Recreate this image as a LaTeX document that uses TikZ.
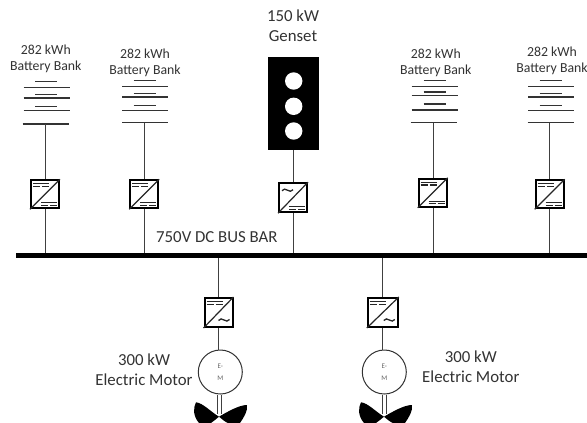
\documentclass[tikz,border=0pt]{standalone}
\usepackage{fontspec}
\setmainfont{Carlito}
\usetikzlibrary{calc}
\definecolor{txt}{HTML}{333333}
\definecolor{wire}{HTML}{404040}
\tikzset{
  x=1pt,y=-1pt,
  wire/.style={draw=wire,line width=1pt},
  cell/.style={draw=black!80,line width=1.1pt},
  lbl/.style={text=txt,font=\fontsize{13.8}{16.3}\selectfont,align=center,inner sep=0pt},
  biglbl/.style={text=txt,font=\fontsize{16.8}{20}\selectfont,align=center,inner sep=0pt},
  conv/.style={draw=black,line width=2pt,fill=white,minimum width=#1,minimum height=28pt,inner sep=0pt},
  conv/.default=28pt,
  symb/.style={draw=black!85,line width=1.2pt},
  motor/.style={circle,draw=black!80,line width=1pt,fill=white,minimum size=44pt,inner sep=0pt,
    align=center,font=\fontsize{7}{12}\selectfont,text=black!60},
}
\newcommand{\tildeat}[1]{%
  \draw[symb,line width=1.3pt,shift={(#1)}] (-5.5,0.5) .. controls (-2.5,-4.5) and (2.5,4.5) .. (5.5,-0.5);
}
\newcommand{\convsym}[3]{%
  \draw[symb] (#1.south west) -- (#1.north east);
  \ifx#2d
    \draw[symb] ([xshift=3pt,yshift=-4.5pt]#1.north west) -- ++(16,0);
    \draw[symb] ([xshift=3pt,yshift=-7.2pt]#1.north west) -- ++(7,0);
    \draw[symb] ([xshift=12pt,yshift=-7.2pt]#1.north west) -- ++(7,0);
  \else
    \tildeat{$(#1.north west)+(9.5,8)$}
  \fi
  \ifx#3d
    \draw[symb] ([xshift=-19pt,yshift=6.7pt]#1.south east) -- ++(16,0);
    \draw[symb] ([xshift=-19pt,yshift=4pt]#1.south east) -- ++(7,0);
    \draw[symb] ([xshift=-10pt,yshift=4pt]#1.south east) -- ++(7,0);
  \else
    \tildeat{$(#1.south east)+(-9.5,-8)$}
  \fi
}
\newcommand{\batt}[9]{%
  \draw[cell] (#3,#4) -- ++(22,0);
  \draw[cell] (#2,#5) -- ++(46,0);
  \draw[cell] (#3,#6) -- ++(22,0);
  \draw[cell] (#2,#7) -- ++(46,0);
  \draw[cell] (#3,#8) -- ++(22,0);
  \draw[cell] (#2,#9) -- ++(46,0);
}
\newcommand{\prop}[1]{%
  \fill[black] (#1,416.7) .. controls (#1-8,412) and (#1-16,403) .. (#1-23,402.3)
    .. controls (#1-26,408) and (#1-26,416) .. (#1-20,423) -- (#1-8,423)
    .. controls (#1-5,421) and (#1-3,419) .. (#1,416.7)
    .. controls (#1+3,419) and (#1+6,422) .. (#1+9,423) -- (#1+21,423)
    .. controls (#1+25,417) and (#1+29,411) .. (#1+28,405)
    .. controls (#1+20,405) and (#1+8,412) .. (#1,416.7) -- cycle;
}
\begin{document}
\begin{tikzpicture}
\useasboundingbox (0,0) rectangle (587,423);
\fill[white] (0,0) rectangle (587,423);

% labels
\node[lbl] (t1) at (45.8,58.5) {282 kWh\\Battery Bank};
\node[lbl] (t2) at (145,62.5) {282 kWh\\Battery Bank};
\node[biglbl] (t3) at (293,26) {150 kW\\Genset};
\node[lbl] (t4) at (435.8,62.5) {282 kWh\\Battery Bank};
\node[lbl] (t5) at (552,60.5) {282 kWh\\Battery Bank};
\node[biglbl,anchor=west] (tb) at (156,237) {750V DC BUS BAR};
\node[biglbl] (t6) at (144,369.5) {300 kW\\Electric Motor};
\node[biglbl] (t7) at (470.8,367) {300 kW\\Electric Motor};

% bus
\node[fill=black,minimum width=571pt,minimum height=4.6pt,inner sep=0pt,anchor=west] (bus) at (16,255.6) {};

% batteries
\batt{b1}{23.5}{35}{81.7}{87.3}{94.3}{98}{106.3}{110.7}{117.7}
\draw[cell] (22.7,124) -- (68.7,124);
\batt{b2}{122.3}{133.5}{80.7}{86.7}{93.3}{97}{105.3}{110.7}{117.7}
\draw[cell] (122,122.7) -- (168,122.7);
\batt{b4}{411.5}{423.5}{80.7}{86.7}{92}{95.7}{104}{110}{116.7}
\draw[cell] (410.7,122.7) -- (456.7,122.7);
\batt{b5}{528}{539.5}{80.7}{86.7}{93.3}{97}{105.3}{110.7}{117.7}
\draw[cell] (527.7,122.7) -- (573.7,122.7);

\coordinate (f1) at (45.7,124);
\coordinate (f2) at (144,122.7);
\coordinate (f4) at (433.7,122.7);
\coordinate (f5) at (549.3,122.7);

% genset
\node[fill=black,minimum width=51pt,minimum height=93.5pt,inner sep=0pt] (gen) at (293.2,103.4) {};
\foreach \yy in {81,106.3,131} \fill[white] (293.7,\yy) circle (8.7);

% converters
\node[conv] (c1) at (45,194.3) {};
\node[conv] (c2) at (144.2,194.3) {};
\node[conv,minimum height=29pt] (c3) at (293,197.7) {};
\node[conv] (c4) at (432.7,192.8) {};
\node[conv] (c5) at (549.7,194.3) {};
\node[conv,minimum height=29pt] (c6) at (218.5,312.5) {};
\node[conv,minimum height=29pt,minimum width=30pt] (c7) at (382.8,312.5) {};
\convsym{c1}{d}{d}
\convsym{c2}{d}{d}
\convsym{c3}{a}{d}
\convsym{c4}{d}{d}
\convsym{c5}{d}{d}
\convsym{c6}{d}{a}
\convsym{c7}{d}{a}

% motors
\node[motor] (m1) at (220.3,372) {E-\\M};
\node[motor] (m2) at (384.3,372) {E-\\M};

% wires
\draw[wire] (f1) -- (f1 |- c1.north);
\draw[wire] (f1 |- c1.south) -- (f1 |- bus.north);
\draw[wire] (f2) -- (f2 |- c2.north);
\draw[wire] (f2 |- c2.south) -- (f2 |- bus.north);
\draw[wire] (gen.south -| c3.north) -- (c3.north);
\draw[wire] (c3.south) -- (c3.south |- bus.north);
\draw[wire] (f4) -- (f4 |- c4.north);
\draw[wire] (f4 |- c4.south) -- (f4 |- bus.north);
\draw[wire] (f5) -- (f5 |- c5.north);
\draw[wire] (f5 |- c5.south) -- (f5 |- bus.north);
\draw[wire] (c6.north |- bus.south) -- (c6.north);
\draw[wire] (c6.south) -- (c6.south |- m1.north);
\draw[wire] (c7.north |- bus.south) -- (c7.north);
\draw[wire] (c7.south) -- (c7.south |- m2.north);

% propellers
\prop{219}
\prop{384}
\coordinate (s1) at (217.3,414);
\coordinate (s2) at (221.3,414);
\coordinate (s3) at (382.3,414);
\coordinate (s4) at (386.3,414);
\draw[wire] (s1 |- m1.south) -- (s1);
\draw[wire] (s2 |- m1.south) -- (s2);
\draw[wire] (s3 |- m2.south) -- (s3);
\draw[wire] (s4 |- m2.south) -- (s4);
\end{tikzpicture}
\end{document}
